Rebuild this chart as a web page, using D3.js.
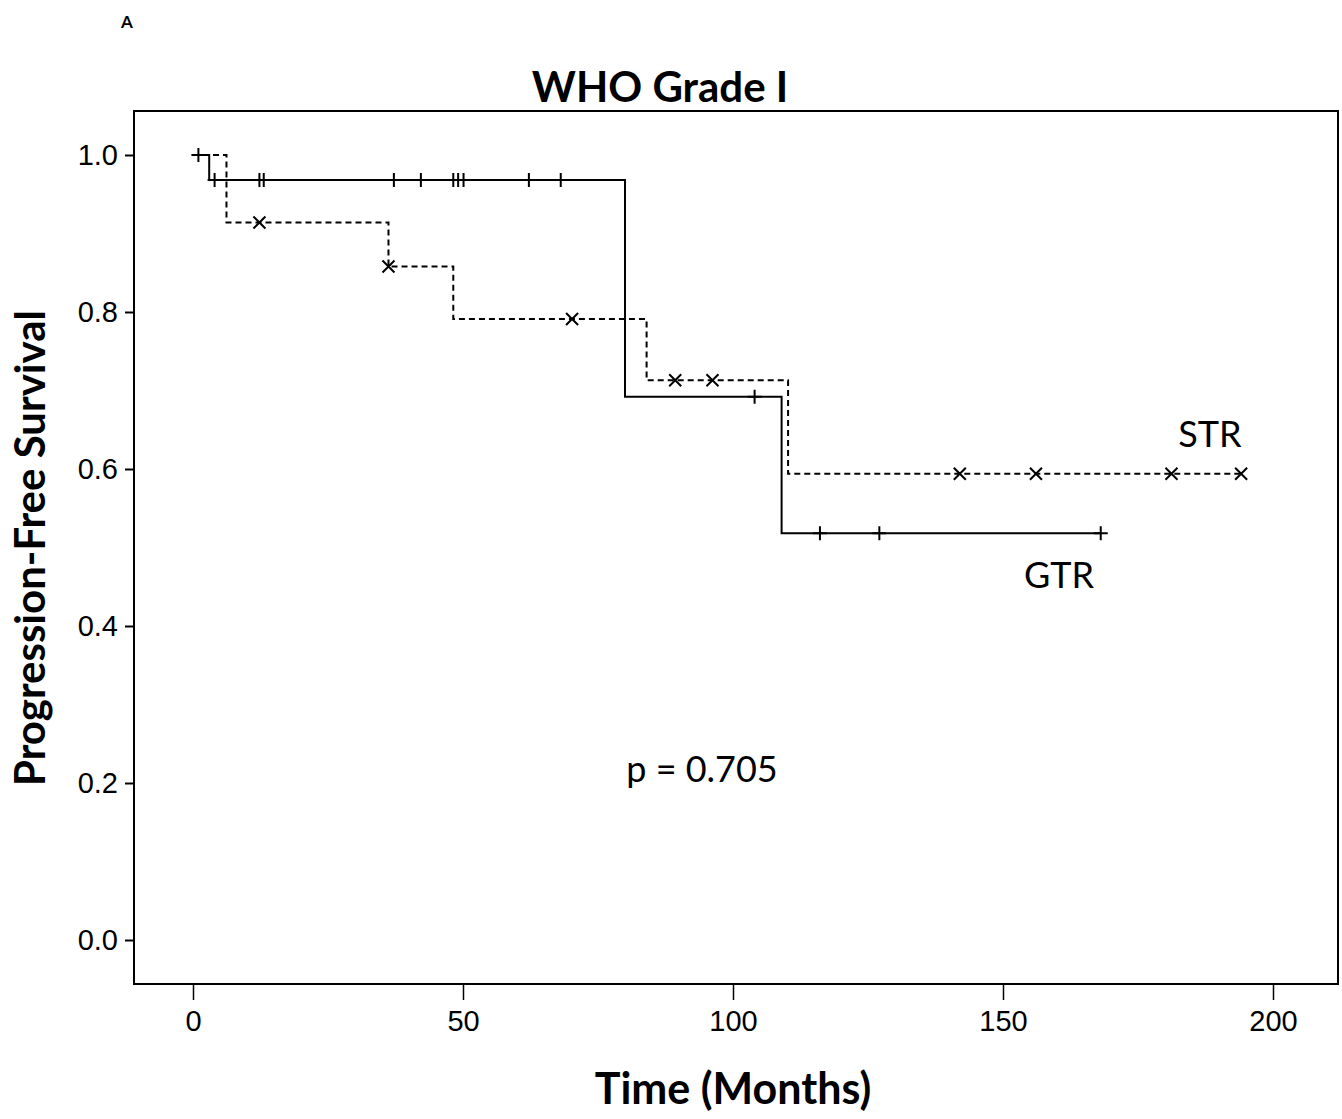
<!DOCTYPE html>
<html>
<head>
<meta charset="utf-8">
<script src="https://cdn.jsdelivr.net/npm/d3@7"></script>
<style>
  body { margin: 0; background: #fff; }
  svg { display: block; font-family: Lato, "Open Sans", sans-serif; }
</style>
</head>
<body>
<svg id="chart" width="1342" height="1119"></svg>
<script>
// Kaplan-Meier steps: [time, survival]
const gtrSteps = [[0, 1.0], [3, 0.968], [80, 0.692], [109, 0.518]];
const gtrEnd = 168;
const gtrCensored = [[1, 1.0], [4, 0.968], [12.3, 0.968], [13.1, 0.968], [37.2, 0.968], [42.2, 0.968],
  [48.2, 0.968], [49.1, 0.968], [50.1, 0.968], [62.2, 0.968], [68.1, 0.968],
  [104, 0.692], [116.1, 0.518], [127.1, 0.518], [168.1, 0.518]];

const strSteps = [[0, 1.0], [6.2, 0.914], [36.2, 0.858], [48.2, 0.791], [84, 0.713], [110.2, 0.594]];
const strEnd = 194.1;
const strCensored = [[12.3, 0.914], [36.2, 0.858], [70.2, 0.791], [89.3, 0.713], [96.2, 0.713],
  [142, 0.594], [156.1, 0.594], [181.2, 0.594], [194.1, 0.594]];

const xTicks = [0, 50, 100, 150, 200];
const yTicks = [0.0, 0.2, 0.4, 0.6, 0.8, 1.0];

const frame = { left: 134, right: 1338, top: 111, bottom: 984 };
const svg = d3.select('#chart');

const x = d3.scaleLinear().domain([0, 200]).range([193, 1273]);
const y = d3.scaleLinear().domain([0, 1]).range([940, 155]);

// frame
svg.append('rect')
  .attr('x', frame.left).attr('y', frame.top)
  .attr('width', frame.right - frame.left).attr('height', frame.bottom - frame.top)
  .attr('fill', 'none').attr('stroke', '#000').attr('stroke-width', 2);

// axes
const xAxis = svg.append('g')
  .attr('transform', `translate(0,${frame.bottom})`)
  .call(d3.axisBottom(x).tickValues(xTicks).tickSize(16).tickPadding(10).tickFormat(d3.format('d')));
xAxis.select('.domain').remove();
xAxis.selectAll('line').attr('stroke-width', 1.5);
xAxis.selectAll('text').attr('font-size', 29).attr('fill', '#000');

const yAxis = svg.append('g')
  .attr('transform', `translate(${frame.left},0)`)
  .call(d3.axisLeft(y).tickValues(yTicks).tickSize(9).tickPadding(7).tickFormat(d3.format('.1f')));
yAxis.select('.domain').remove();
yAxis.selectAll('line').attr('stroke-width', 2);
yAxis.selectAll('text').attr('font-size', 29).attr('fill', '#000');

// step path builder
function stepPath(steps, end) {
  const pts = [];
  steps.forEach((s, i) => {
    if (i > 0) pts.push([s[0], steps[i - 1][1]]);
    pts.push(s);
  });
  pts.push([end, steps[steps.length - 1][1]]);
  return d3.line().x(d => x(d[0])).y(d => y(d[1]))(pts);
}

svg.append('path')
  .attr('d', stepPath(strSteps, strEnd))
  .attr('fill', 'none').attr('stroke', '#000').attr('stroke-width', 2)
  .attr('stroke-dasharray', '6,4');

svg.append('path')
  .attr('d', stepPath(gtrSteps, gtrEnd))
  .attr('fill', 'none').attr('stroke', '#000').attr('stroke-width', 2);

// censor marks: GTR "+" and STR "x"
svg.append('g').selectAll('path')
  .data(gtrCensored).join('path')
  .attr('d', d => {
    const cx = x(d[0]), cy = y(d[1]);
    return `M${cx - 7},${cy}H${cx + 7}M${cx},${cy - 7}V${cy + 7}`;
  })
  .attr('stroke', '#000').attr('stroke-width', 2);

svg.append('g').selectAll('path')
  .data(strCensored).join('path')
  .attr('d', d => {
    const cx = x(d[0]), cy = y(d[1]), r = 6;
    return `M${cx - r},${cy - r}L${cx + r},${cy + r}M${cx - r},${cy + r}L${cx + r},${cy - r}`;
  })
  .attr('stroke', '#000').attr('stroke-width', 2);

// text
svg.append('text').attr('x', 127).attr('y', 28).attr('text-anchor', 'middle')
  .attr('font-size', 17).attr('font-weight', 'bold').text('A');

svg.append('text').attr('x', 660).attr('y', 102).attr('text-anchor', 'middle')
  .attr('font-size', 42).attr('font-weight', 'bold').text('WHO Grade I');

svg.append('text').attr('transform', 'translate(45,548) rotate(-90)').attr('text-anchor', 'middle')
  .attr('font-size', 42).attr('font-weight', 'bold').text('Progression-Free Survival');

svg.append('text').attr('x', 733).attr('y', 1104).attr('text-anchor', 'middle')
  .attr('font-size', 43).attr('font-weight', 'bold').text('Time (Months)');

svg.append('text').attr('x', 1210).attr('y', 447).attr('text-anchor', 'middle')
  .attr('font-size', 36).text('STR');
svg.append('text').attr('x', 1059).attr('y', 588).attr('text-anchor', 'middle')
  .attr('font-size', 36).text('GTR');
svg.append('text').attr('x', 702).attr('y', 782).attr('text-anchor', 'middle')
  .attr('font-size', 36).text('p = 0.705');
</script>
</body>
</html>
